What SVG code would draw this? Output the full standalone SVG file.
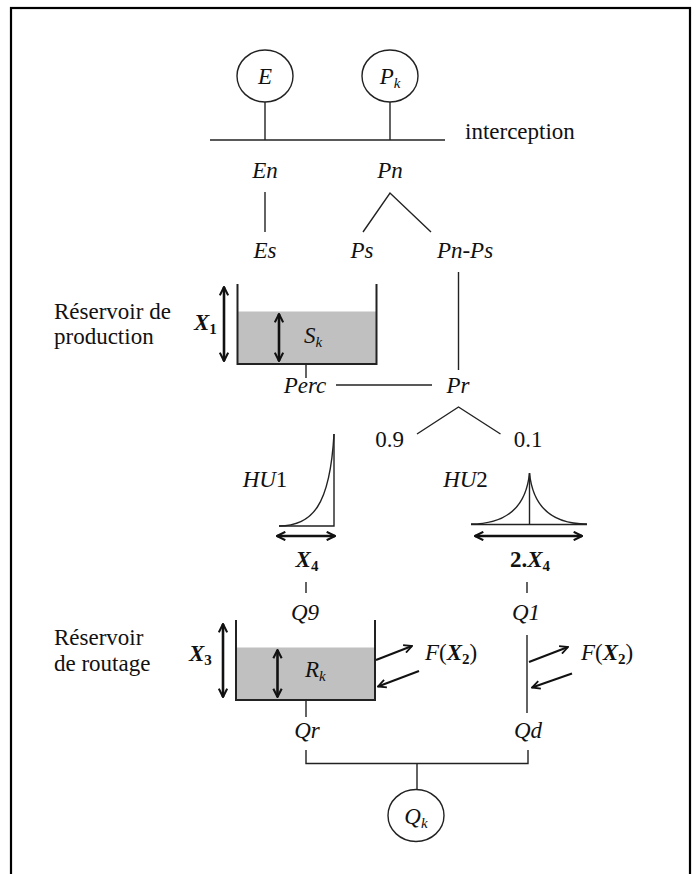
<svg xmlns="http://www.w3.org/2000/svg" width="696" height="874" viewBox="0 0 696 874">
<defs>
<style>
text{font-family:"Liberation Serif","DejaVu Serif","Times New Roman",Times,serif;font-size:23px;fill:#111}
.i{font-style:italic}
.b{font-weight:bold}
.sub{font-size:15px}
.ln{stroke:#222;stroke-width:1.4;fill:none}
.tk{stroke:#222;stroke-width:2;fill:none}
.ar{stroke:#111;stroke-width:2.6;fill:none}
.fa{stroke:#111;stroke-width:2;fill:none}
.water{fill:#c0c0c0}
.node{fill:#fff;stroke:#222;stroke-width:1.4}
</style>
<marker id="ah" viewBox="0 0 10 10" refX="9" refY="5" markerWidth="4" markerHeight="4" orient="auto-start-reverse" markerUnits="strokeWidth">
<path d="M1,1 L9,5 L1,9" fill="none" stroke="#111" stroke-width="2"/>
</marker>
<marker id="ah2" viewBox="0 0 10 10" refX="9" refY="5" markerWidth="5" markerHeight="5" orient="auto" markerUnits="strokeWidth">
<path d="M1,1 L9,5 L1,9" fill="none" stroke="#111" stroke-width="1.8"/>
</marker>
</defs>
<rect x="11" y="8" width="679" height="880" fill="none" stroke="#000" stroke-width="2.2"/>

<g id="connectors">
<line class="ln" x1="265" y1="102" x2="265" y2="140"/>
<line class="ln" x1="390" y1="102" x2="390" y2="140"/>
<line class="ln" x1="210" y1="140" x2="445" y2="140"/>
<line class="ln" x1="265" y1="192" x2="265" y2="232"/>
<polyline class="ln" points="363,232 390,193 431,232"/>
<line class="ln" x1="458.5" y1="272" x2="458.5" y2="370"/>
<line class="ln" x1="306" y1="364" x2="306" y2="378"/>
<line class="ln" x1="336" y1="385" x2="432" y2="385"/>
<polyline class="ln" points="417,434 458.5,407 500.5,434"/>
<line class="ln" x1="306" y1="582" x2="306" y2="593"/>
<line class="ln" x1="527" y1="582" x2="527" y2="593"/>
<line class="ln" x1="306" y1="700" x2="306" y2="717"/>
<line class="ln" x1="527" y1="635" x2="527" y2="713"/>
<polyline class="ln" points="306,750 306,763.5 528,763.5 528,750"/>
<line class="ln" x1="417" y1="763.5" x2="417" y2="789.5"/>
</g>

<g id="node-E">
<ellipse class="node" cx="265" cy="76" rx="28" ry="26"/>
<text class="i" x="265" y="84" text-anchor="middle" font-family="Liberation Serif, serif">E</text>
</g>
<g id="node-Pk">
<ellipse class="node" cx="390" cy="76" rx="28" ry="26"/>
<text class="i" x="390" y="84" text-anchor="middle" font-family="Liberation Serif, serif">P<tspan class="sub" dy="4">k</tspan></text>
</g>
<g id="label-interception"><text x="465" y="139" font-family="Liberation Serif, serif">interception</text></g>
<g id="label-En"><text class="i" x="265" y="178" text-anchor="middle" font-family="Liberation Serif, serif">En</text></g>
<g id="label-Pn"><text class="i" x="390" y="178" text-anchor="middle" font-family="Liberation Serif, serif">Pn</text></g>
<g id="label-Es"><text class="i" x="265" y="258" text-anchor="middle" font-family="Liberation Serif, serif">Es</text></g>
<g id="label-Ps"><text class="i" x="362" y="258" text-anchor="middle" font-family="Liberation Serif, serif">Ps</text></g>
<g id="label-PnPs"><text class="i" x="465" y="258" text-anchor="middle" font-family="Liberation Serif, serif">Pn-Ps</text></g>

<g id="production-store" font-family="Liberation Serif, serif">
<text x="54" y="319" font-family="Liberation Serif, serif">Réservoir de</text>
<text x="54" y="344" font-family="Liberation Serif, serif">production</text>
<rect class="water" x="237.5" y="311.5" width="139" height="52.5"/>
<polyline class="tk" points="237.5,284 237.5,364 376.5,364 376.5,284"/>
<line class="ar" x1="224" y1="287" x2="224" y2="361" marker-start="url(#ah)" marker-end="url(#ah)"/>
<line class="ar" x1="279" y1="314" x2="279" y2="361" marker-start="url(#ah)" marker-end="url(#ah)"/>
<text class="b i" x="194" y="330" font-family="Liberation Serif, serif">X<tspan class="sub" dy="4" font-style="normal">1</tspan></text>
<text class="i" x="304" y="343" font-family="Liberation Serif, serif">S<tspan class="sub" dy="4">k</tspan></text>
</g>
<g id="label-Perc"><text class="i" x="305" y="393" text-anchor="middle" font-family="Liberation Serif, serif">Perc</text></g>
<g id="label-Pr"><text class="i" x="458" y="393" text-anchor="middle" font-family="Liberation Serif, serif">Pr</text></g>
<g id="label-09"><text x="389.5" y="447" text-anchor="middle" font-family="Liberation Serif, serif">0.9</text></g>
<g id="label-01"><text x="528" y="447" text-anchor="middle" font-family="Liberation Serif, serif">0.1</text></g>

<g id="HU1">
<text x="265" y="487" text-anchor="middle" font-family="Liberation Serif, serif"><tspan class="i">HU</tspan>1</text>
<path class="ln" d="M279,526 L334,526 L334,434"/>
<path class="ln" d="M279,526 C312,526 330,506 334,434"/>
<line class="ar" x1="277" y1="536" x2="335" y2="536" marker-start="url(#ah)" marker-end="url(#ah)"/>
<text class="b i" x="307" y="567" text-anchor="middle" font-family="Liberation Serif, serif">X<tspan class="sub" dy="4" font-style="normal">4</tspan></text>
</g>
<g id="HU2">
<text x="465.5" y="487" text-anchor="middle" font-family="Liberation Serif, serif"><tspan class="i">HU</tspan>2</text>
<line class="ln" x1="471" y1="524.5" x2="587" y2="524.5" stroke-width="1.8"/>
<line class="ln" x1="529.5" y1="473" x2="529.5" y2="524.5"/>
<path class="ln" d="M471,524 C506,524 526,508 529.5,473 C533,508 553,524 587,524"/>
<line class="ar" x1="475" y1="536" x2="582" y2="536" marker-start="url(#ah)" marker-end="url(#ah)"/>
<text class="b" x="530" y="567" text-anchor="middle" font-family="Liberation Serif, serif">2.<tspan font-style="italic">X</tspan><tspan class="sub" dy="4">4</tspan></text>
</g>
<g id="label-Q9"><text class="i" x="305" y="620" text-anchor="middle" font-family="Liberation Serif, serif">Q9</text></g>
<g id="label-Q1"><text class="i" x="526" y="620" text-anchor="middle" font-family="Liberation Serif, serif">Q1</text></g>

<g id="routing-store">
<text x="54" y="645" font-family="Liberation Serif, serif">Réservoir</text>
<text x="54" y="671" font-family="Liberation Serif, serif">de routage</text>
<rect class="water" x="236" y="647.5" width="139" height="52.5"/>
<polyline class="tk" points="236,620 236,700 375,700 375,620"/>
<line class="ar" x1="223" y1="624" x2="223" y2="697" marker-start="url(#ah)" marker-end="url(#ah)"/>
<line class="ar" x1="277.5" y1="650" x2="277.5" y2="697" marker-start="url(#ah)" marker-end="url(#ah)"/>
<text class="b i" x="189" y="661" font-family="Liberation Serif, serif">X<tspan class="sub" dy="4" font-style="normal">3</tspan></text>
<text class="i" x="305" y="677" font-family="Liberation Serif, serif">R<tspan class="sub" dy="4">k</tspan></text>
<line class="fa" x1="376" y1="660" x2="412" y2="646" marker-end="url(#ah2)"/>
<line class="fa" x1="419" y1="671" x2="378" y2="686.5" marker-end="url(#ah2)"/>
<text x="425" y="660" font-family="Liberation Serif, serif"><tspan class="i">F</tspan>(<tspan class="b i">X</tspan><tspan class="b sub" dy="4">2</tspan><tspan dy="-4">)</tspan></text>
</g>
<g id="direct-exchange">
<line class="fa" x1="529" y1="662" x2="568" y2="647" marker-end="url(#ah2)"/>
<line class="fa" x1="572" y1="673.5" x2="532" y2="687.5" marker-end="url(#ah2)"/>
<text x="581" y="660" font-family="Liberation Serif, serif"><tspan class="i">F</tspan>(<tspan class="b i">X</tspan><tspan class="b sub" dy="4">2</tspan><tspan dy="-4">)</tspan></text>
</g>
<g id="label-Qr"><text class="i" x="307" y="738" text-anchor="middle" font-family="Liberation Serif, serif">Qr</text></g>
<g id="label-Qd"><text class="i" x="528" y="738" text-anchor="middle" font-family="Liberation Serif, serif">Qd</text></g>
<g id="node-Qk">
<ellipse class="node" cx="416" cy="815.5" rx="28" ry="26"/>
<text class="i" x="416" y="824" text-anchor="middle" font-family="Liberation Serif, serif">Q<tspan class="sub" dy="4">k</tspan></text>
</g>
</svg>
